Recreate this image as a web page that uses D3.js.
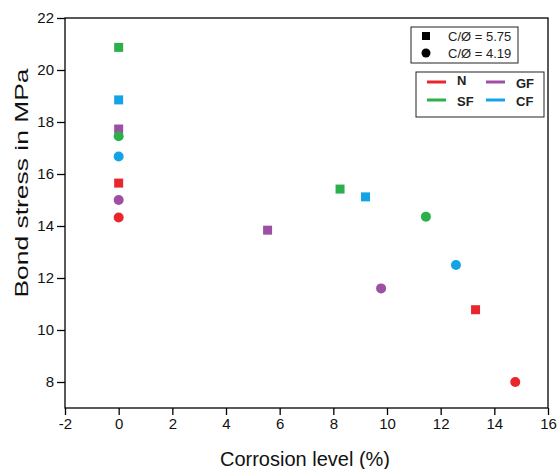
<!DOCTYPE html>
<html>
<head>
    <meta charset='utf-8'>
    <title>Bond stress vs corrosion</title>
    <script type='text/javascript' src='https://cdn.jsdelivr.net/npm/d3@7'></script>
    <style>
        body { margin: 0; background: #fff; }
        text { font-family: 'Liberation Sans', Arial, sans-serif; }
    </style>
</head>
<body>
    <svg width='557' height='469'></svg>
    <script type='text/javascript'>

        // series: fibre type
        const series = ['N', 'SF', 'GF', 'CF']
        const colors = { N: '#e8272d', SF: '#2bb04c', GF: '#9d4fa5', CF: '#14a3e4' }

        // C/Ø = 5.75 (squares)
        const squareX = { N: [0, 13.3], SF: [0, 8.25], GF: [0, 5.55], CF: [0, 9.2] }
        const squareY = { N: [15.65, 10.78], SF: [20.87, 15.42], GF: [17.73, 13.84], CF: [18.85, 15.12] }
        // C/Ø = 4.19 (circles)
        const circleX = { N: [0, 14.78], SF: [0, 11.45], GF: [0, 9.78], CF: [0, 12.57] }
        const circleY = { N: [14.33, 8.0], SF: [17.45, 14.36], GF: [15.0, 11.6], CF: [16.67, 12.5] }

        const xTicks = [-2, 0, 2, 4, 6, 8, 10, 12, 14, 16]
        const yTicks = [8, 10, 12, 14, 16, 18, 20, 22]

        const svg = d3.select('svg')
        const margin = { top: 18, left: 65, bottom: 61, right: 9 }
        const width = 557 - margin.left - margin.right
        const height = 469 - margin.top - margin.bottom

        const x = d3.scaleLinear().domain([-2, 16]).range([0, width])
        const y = d3.scaleLinear().domain([7, 22]).range([height, 0])

        const g = svg.append('g').attr('transform', `translate(${margin.left},${margin.top})`)

        // frame
        g.append('rect')
            .attr('width', width).attr('height', height)
            .attr('fill', 'none').attr('stroke', '#000').attr('stroke-width', 1.3)

        // x axis with minor ticks
        const xAxis = g.append('g').attr('transform', `translate(0,${height})`)
        xAxis.call(d3.axisBottom(x).tickValues(d3.range(-2, 16.01, 1)).tickSize(4).tickFormat(''))
        xAxis.call(d3.axisBottom(x).tickValues(xTicks).tickSize(7).tickPadding(3).tickFormat(d => String(d)))
        xAxis.selectAll('.domain').remove()
        xAxis.selectAll('line').attr('stroke', '#000').attr('stroke-width', 1.3)
        xAxis.selectAll('text').attr('font-size', 15).attr('fill', '#111')

        const yAxis = g.append('g')
        yAxis.call(d3.axisLeft(y).tickValues(d3.range(7, 22.01, 1)).tickSize(4).tickFormat(''))
        yAxis.call(d3.axisLeft(y).tickValues(yTicks).tickSize(8).tickPadding(3).tickFormat(d => String(d)))
        yAxis.selectAll('.domain').remove()
        yAxis.selectAll('line').attr('stroke', '#000').attr('stroke-width', 1.3)
        yAxis.selectAll('text').attr('font-size', 15).attr('fill', '#111')

        // axis titles
        svg.append('text')
            .attr('x', 305).attr('y', 466)
            .attr('text-anchor', 'middle').attr('font-size', 20).attr('fill', '#111')
            .attr('textLength', 170).attr('lengthAdjust', 'spacingAndGlyphs')
            .text('Corrosion level (%)')
        svg.append('text')
            .attr('transform', `translate(28,183) rotate(-90)`)
            .attr('text-anchor', 'middle').attr('font-size', 19).attr('fill', '#111')
            .attr('textLength', 229).attr('lengthAdjust', 'spacingAndGlyphs')
            .text('Bond stress in MPa')

        // points
        const squares = series.flatMap(s => squareX[s].map((v, i) => ({ s, x: v, y: squareY[s][i] })))
        const circles = series.flatMap(s => circleX[s].map((v, i) => ({ s, x: v, y: circleY[s][i] })))

        const sq = 9
        g.selectAll('rect.sq')
            .data(squares)
            .join('rect')
            .attr('class', 'sq')
            .attr('x', d => x(d.x) - sq / 2).attr('y', d => y(d.y) - sq / 2)
            .attr('width', sq).attr('height', sq)
            .attr('fill', d => colors[d.s])

        g.selectAll('circle.ci')
            .data(circles)
            .join('circle')
            .attr('class', 'ci')
            .attr('cx', d => x(d.x)).attr('cy', d => y(d.y))
            .attr('r', 5)
            .attr('fill', d => colors[d.s])

        // legend 1: shapes
        const l1 = svg.append('g')
        l1.append('rect').attr('x', 411).attr('y', 27).attr('width', 107).attr('height', 36)
            .attr('fill', '#fff').attr('stroke', '#222').attr('stroke-width', 1)
        l1.append('rect').attr('x', 422).attr('y', 32).attr('width', 8).attr('height', 8).attr('fill', '#000')
        l1.append('circle').attr('cx', 426).attr('cy', 53).attr('r', 4.5).attr('fill', '#000')
        l1.append('text').attr('x', 448).attr('y', 41).attr('font-size', 13).attr('fill', '#222').text('C/Ø = 5.75')
        l1.append('text').attr('x', 448).attr('y', 58).attr('font-size', 13).attr('fill', '#222').text('C/Ø = 4.19')

        // legend 2: series colours
        const l2 = svg.append('g')
        l2.append('rect').attr('x', 416).attr('y', 72).attr('width', 128).attr('height', 45)
            .attr('fill', '#fff').attr('stroke', '#222').attr('stroke-width', 1)
        const pos = { N: [427, 82], GF: [486, 82], SF: [427, 100], CF: [486, 100] }
        series.forEach(s => {
            const [px, py] = pos[s]
            l2.append('line').attr('x1', px).attr('x2', px + 19).attr('y1', py).attr('y2', py)
                .attr('stroke', colors[s]).attr('stroke-width', 3)
            l2.append('text').attr('x', px + 30).attr('y', py + (s === 'N' ? 3 : 6))
                .attr('font-size', 13).attr('font-weight', 'bold').attr('fill', '#222').text(s)
        })
    </script>
</body>
</html>
